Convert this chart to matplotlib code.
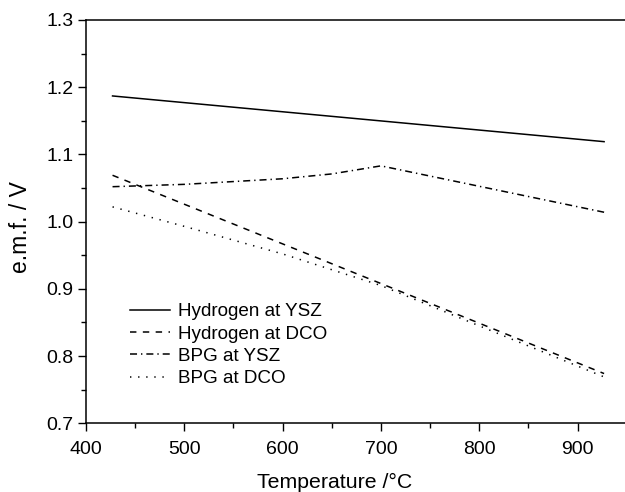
import matplotlib
matplotlib.use("Agg")
import matplotlib.pyplot as plt
from matplotlib.ticker import MultipleLocator, FormatStrFormatter

plt.rcParams['font.family'] = ['Liberation Sans', 'DejaVu Sans']

T_h_ysz = [427, 927]
emf_h_ysz = [1.187, 1.119]

T_h_dco = [427, 927]
emf_h_dco = [1.069, 0.774]

T_bpg_ysz = [427, 500, 600, 650, 700, 927]
emf_bpg_ysz = [1.052, 1.0555, 1.0638, 1.071, 1.083, 1.014]

T_bpg_dco = [427, 500, 600, 700, 800, 927]
emf_bpg_dco = [1.022, 0.993, 0.952, 0.905, 0.845, 0.769]

labels = ["Hydrogen at YSZ", "Hydrogen at DCO", "BPG at YSZ", "BPG at DCO"]

fig = plt.figure(figsize=(6.25, 4.92), dpi=100)
ax = fig.add_axes([86/625, 1-423.3/492, 540.7/625, 403.3/492])

lw = 1.1
ax.plot(T_h_ysz, emf_h_ysz, color='black', lw=lw, linestyle='-', label=labels[0])
ax.plot(T_h_dco, emf_h_dco, color='black', lw=lw, linestyle=(0, (4.2, 4.2)), label=labels[1])
ax.plot(T_bpg_ysz, emf_bpg_ysz, color='black', lw=lw, linestyle=(0, (4.6, 2.6, 0.9, 2.6)), label=labels[2])
ax.plot(T_bpg_dco, emf_bpg_dco, color='black', lw=lw, linestyle=(0, (0.9, 4.4)), label=labels[3])

ax.set_xlim(400, 950)
ax.set_ylim(0.7, 1.3)
ax.xaxis.set_major_locator(MultipleLocator(100))
ax.xaxis.set_minor_locator(MultipleLocator(50))
ax.yaxis.set_major_locator(MultipleLocator(0.1))
ax.yaxis.set_minor_locator(MultipleLocator(0.05))
ax.yaxis.set_major_formatter(FormatStrFormatter('%.1f'))

ax.spines['right'].set_visible(False)
for s in ['left', 'bottom', 'top']:
    ax.spines[s].set_linewidth(1.1)
ax.tick_params(which='major', direction='out', length=6, width=1.0, labelsize=14, pad=3)
ax.tick_params(axis='x', which='major', pad=7)
ax.tick_params(which='minor', direction='out', length=3.5, width=1.0)
ax.tick_params(top=False, right=False, which='both')

ax.set_xlabel("Temperature /°C", fontsize=15.3)
ax.set_ylabel("e.m.f. / V", fontsize=16.5)
ax.xaxis.set_label_coords(0.4605, -0.1456)
ax.yaxis.set_label_coords(-0.122, 0.4855)
ax.xaxis.label.set_va('center')
ax.yaxis.label.set_va('center')

leg = ax.legend(loc='upper left', bbox_to_anchor=((130-86)/540.7, (423.3-303)/403.3),
                frameon=False, fontsize=13.6, handlelength=2.1, handletextpad=0.42,
                labelspacing=0.27, borderaxespad=0, borderpad=0)

fig.savefig("out.png", dpi=100)
